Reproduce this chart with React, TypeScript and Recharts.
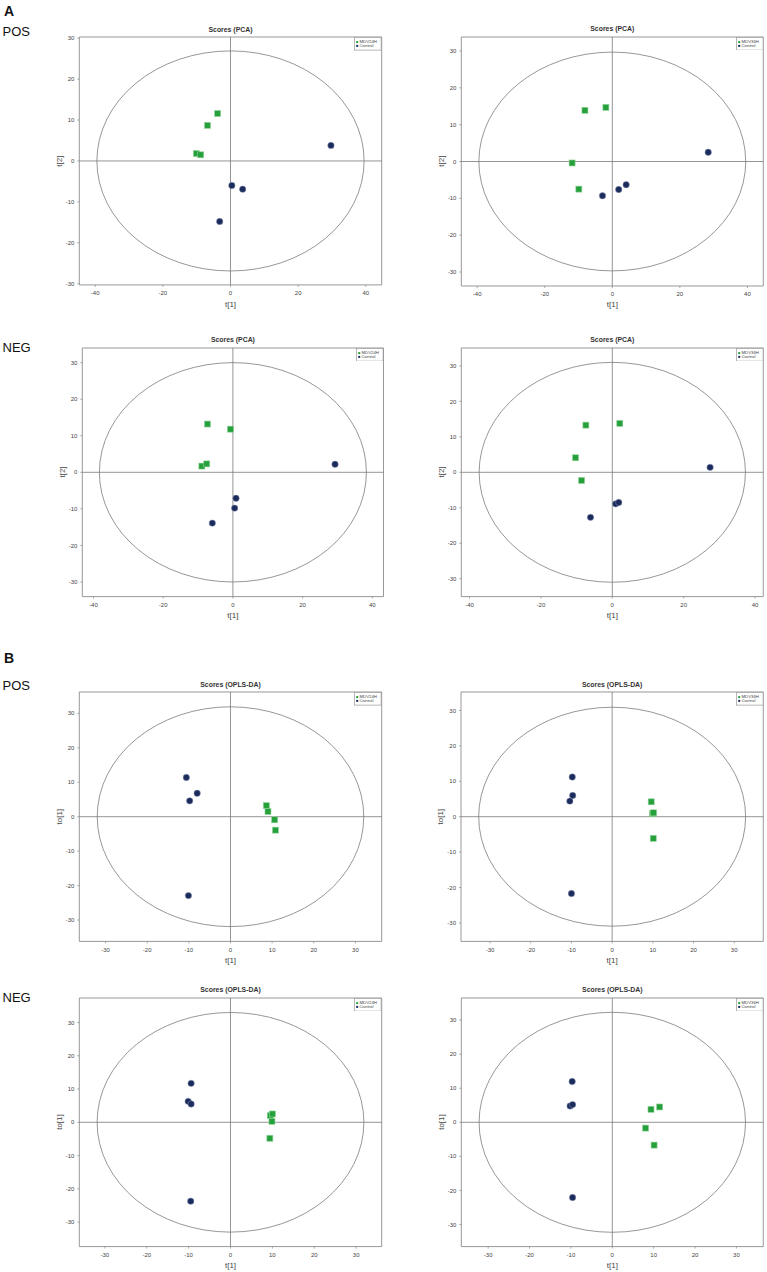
import React from 'react';
import { ScatterChart, Scatter, XAxis, YAxis, ReferenceLine, ReferenceArea, Legend } from 'recharts';

const GREEN = '#25a03b';
const NAVY = '#1b2c5c';
const FONT = "'Liberation Sans', Arial, sans-serif";

// ---------- data ----------
const pcaPos24Mdv = [{ x: -3.8, y: 11.6 }, { x: -6.8, y: 8.7 }, { x: -10.1, y: 1.8 }, { x: -8.8, y: 1.5 }];
const pcaPos24Ctrl = [{ x: 29.7, y: 3.8 }, { x: 0.4, y: -6.0 }, { x: 3.6, y: -6.9 }, { x: -3.2, y: -14.8 }];

const pcaPos36Mdv = [{ x: -8.1, y: 13.9 }, { x: -1.9, y: 14.7 }, { x: -11.9, y: -0.4 }, { x: -9.9, y: -7.5 }];
const pcaPos36Ctrl = [{ x: 28.4, y: 2.5 }, { x: -2.9, y: -9.3 }, { x: 1.9, y: -7.6 }, { x: 4.1, y: -6.3 }];

const pcaNeg24Mdv = [{ x: -7.3, y: 13.2 }, { x: -0.7, y: 11.8 }, { x: -8.9, y: 1.7 }, { x: -7.5, y: 2.3 }];
const pcaNeg24Ctrl = [{ x: 29.3, y: 2.2 }, { x: 0.9, y: -7.1 }, { x: 0.5, y: -9.8 }, { x: -5.9, y: -13.9 }];

const pcaNeg36Mdv = [{ x: -7.4, y: 13.3 }, { x: 2.1, y: 13.8 }, { x: -10.3, y: 4.1 }, { x: -8.6, y: -2.3 }];
const pcaNeg36Ctrl = [{ x: 27.4, y: 1.4 }, { x: 0.95, y: -8.9 }, { x: 1.8, y: -8.5 }, { x: -6.1, y: -12.7 }];

const oplsPos24Mdv = [{ x: 8.6, y: 3.2 }, { x: 9.0, y: 1.5 }, { x: 10.6, y: -0.9 }, { x: 10.8, y: -3.9 }];
const oplsPos24Ctrl = [{ x: -10.6, y: 11.4 }, { x: -8.0, y: 6.8 }, { x: -9.8, y: 4.6 }, { x: -10.1, y: -22.9 }];

const oplsPos36Mdv = [{ x: 9.6, y: 4.2 }, { x: 9.9, y: 0.85 }, { x: 10.2, y: 1.1 }, { x: 10.1, y: -6.1 }];
const oplsPos36Ctrl = [{ x: -9.8, y: 11.2 }, { x: -9.7, y: 6.0 }, { x: -10.4, y: 4.4 }, { x: -10.0, y: -21.7 }];

const oplsNeg24Mdv = [{ x: 9.5, y: 2.0 }, { x: 10.0, y: 2.5 }, { x: 9.9, y: 0.3 }, { x: 9.4, y: -4.8 }];
const oplsNeg24Ctrl = [{ x: -9.4, y: 11.7 }, { x: -10.1, y: 6.3 }, { x: -9.4, y: 5.5 }, { x: -9.5, y: -23.7 }];

const oplsNeg36Mdv = [{ x: 9.35, y: 3.8 }, { x: 11.45, y: 4.5 }, { x: 8.05, y: -1.7 }, { x: 10.1, y: -6.7 }];
const oplsNeg36Ctrl = [{ x: -9.7, y: 12.0 }, { x: -10.2, y: 4.8 }, { x: -9.6, y: 5.2 }, { x: -9.6, y: -22.1 }];

const pcaTicksX = [-40, -20, 0, 20, 40];
const pcaTicksY = [-30, -20, -10, 0, 10, 20, 30];
const oplsTicks = [-30, -20, -10, 0, 10, 20, 30];

// Hotelling T2 ellipse radii [t1, t2]
const ellipsePca = [[39.5, 26.9], [39.5, 29.7], [38.3, 30.0], [37.3, 31.0]];
const ellipseOpls = [[32.0, 31.9], [32.8, 30.9], [31.85, 33.0], [32.2, 32.3]];

const groupNames = ['MDV24H', 'MDV36H'];
const controlName = 'Control';

// ---------- layout ----------
type P = {
  L: number; T: number; R: number; B: number;
  xd: number; yd: number; xt: number[]; yt: number[];
  ell: number[]; title: string; ylab: string; legend: string;
  mdv: { x: number; y: number }[]; ctrl: { x: number; y: number }[];
};

const panels: P[] = [
  { L: 79.3, T: 37.3, R: 381.7, B: 285.2, xd: 44.7, yd: 30.3, xt: pcaTicksX, yt: pcaTicksY, ell: ellipsePca[0], title: 'Scores (PCA)', ylab: 't[2]', legend: groupNames[0], mdv: pcaPos24Mdv, ctrl: pcaPos24Ctrl },
  { L: 461.3, T: 36.7, R: 763.3, B: 285.7, xd: 44.7, yd: 33.8, xt: pcaTicksX, yt: pcaTicksY, ell: ellipsePca[1], title: 'Scores (PCA)', ylab: 't[2]', legend: groupNames[1], mdv: pcaPos36Mdv, ctrl: pcaPos36Ctrl },
  { L: 82.3, T: 347.7, R: 383.5, B: 596.3, xd: 43.2, yd: 34.0, xt: pcaTicksX, yt: pcaTicksY, ell: ellipsePca[2], title: 'Scores (PCA)', ylab: 't[2]', legend: groupNames[0], mdv: pcaNeg24Mdv, ctrl: pcaNeg24Ctrl },
  { L: 461.3, T: 347.7, R: 763.3, B: 596.3, xd: 42.3, yd: 35.05, xt: pcaTicksX, yt: pcaTicksY, ell: ellipsePca[3], title: 'Scores (PCA)', ylab: 't[2]', legend: groupNames[1], mdv: pcaNeg36Mdv, ctrl: pcaNeg36Ctrl },
  { L: 79.3, T: 692, R: 381.7, B: 941.4, xd: 36.3, yd: 36.2, xt: oplsTicks, yt: oplsTicks, ell: ellipseOpls[0], title: 'Scores (OPLS-DA)', ylab: 'to[1]', legend: groupNames[0], mdv: oplsPos24Mdv, ctrl: oplsPos24Ctrl },
  { L: 461, T: 692, R: 763.3, B: 941.4, xd: 37.15, yd: 35.2, xt: oplsTicks, yt: oplsTicks, ell: ellipseOpls[1], title: 'Scores (OPLS-DA)', ylab: 'to[1]', legend: groupNames[1], mdv: oplsPos36Mdv, ctrl: oplsPos36Ctrl },
  { L: 79.3, T: 997.7, R: 381.7, B: 1246.3, xd: 36.1, yd: 37.35, xt: oplsTicks, yt: oplsTicks, ell: ellipseOpls[2], title: 'Scores (OPLS-DA)', ylab: 'to[1]', legend: groupNames[0], mdv: oplsNeg24Mdv, ctrl: oplsNeg24Ctrl },
  { L: 461.3, T: 997.7, R: 763.3, B: 1246.3, xd: 36.5, yd: 36.5, xt: oplsTicks, yt: oplsTicks, ell: ellipseOpls[3], title: 'Scores (OPLS-DA)', ylab: 'to[1]', legend: groupNames[1], mdv: oplsNeg36Mdv, ctrl: oplsNeg36Ctrl },
];

const SquareShape = (props: any) => {
  const { cx, cy } = props;
  if (cx == null || cy == null) return null;
  return <rect x={cx - 3} y={cy - 3} width={6} height={6} fill={GREEN} stroke="#92d29c" strokeWidth={0.6} />;
};

const CircleShape = (props: any) => {
  const { cx, cy } = props;
  if (cx == null || cy == null) return null;
  return <circle cx={cx} cy={cy} r={3.2} fill={NAVY} stroke="#8a96b6" strokeWidth={0.5} />;
};

const EllipseShape = (props: any) => {
  const { x, y, width, height } = props;
  if (x == null) return null;
  return (
    <ellipse cx={x + width / 2} cy={y + height / 2} rx={Math.abs(width) / 2} ry={Math.abs(height) / 2}
      fill="none" stroke="#6a6a6a" strokeWidth={0.7} />
  );
};

const LegendBox = ({ name }: { name: string }) => (
  <svg width={27.5} height={13.5} style={{ display: 'block' }}>
    <rect x={0.4} y={0.4} width={26.7} height={12.7} fill="#fff" stroke="#999" strokeWidth={0.7} />
    <rect x={2.2} y={4.1} width={2} height={2} fill={GREEN} />
    <text x={5.5} y={6.3} fontSize={4.3} fill="#444" fontFamily={FONT}>{name}</text>
    <rect x={2.2} y={7.9} width={2} height={2} fill={NAVY} />
    <text x={5.5} y={10.1} fontSize={4.3} fill="#444" fontFamily={FONT}>{controlName}</text>
  </svg>
);

function Panel({ p }: { p: P }) {
  const colX = p.L < 384 ? 0 : 384;
  const top = p.T - 5;
  const W = p.R - colX + 3;
  const H = p.B - p.T + 5 + 28;
  const tickStyle = { fontSize: 6, fill: '#444', fontFamily: FONT };
  return (
    <div style={{ position: 'absolute', left: colX, top }}>
      <ScatterChart width={W} height={H} margin={{ top: 5, right: 3, bottom: 0, left: 0 }}>
        <XAxis type="number" dataKey="x" domain={[-p.xd, p.xd]} ticks={p.xt} allowDataOverflow
          height={28} tickSize={2} tickMargin={4} axisLine={false} tickLine={{ stroke: '#888', strokeWidth: 0.7 }}
          tick={tickStyle} interval={0} />
        <YAxis type="number" dataKey="y" domain={[-p.yd, p.yd]} ticks={p.yt} allowDataOverflow
          width={p.L - colX} tickSize={2} tickMargin={3} axisLine={false} tickLine={{ stroke: '#888', strokeWidth: 0.7 }}
          tick={tickStyle} interval={0} />
        <ReferenceArea x1={-p.xd} x2={p.xd} y1={-p.yd} y2={p.yd} fill="none" stroke="#8c8c8c" strokeWidth={0.9} fillOpacity={0} />
        <ReferenceArea x1={-p.ell[0]} x2={p.ell[0]} y1={-p.ell[1]} y2={p.ell[1]} shape={EllipseShape} />
        <ReferenceLine x={0} stroke="#7a7a7a" strokeWidth={0.8} />
        <ReferenceLine y={0} stroke="#7a7a7a" strokeWidth={0.8} />
        <Legend layout="vertical" align="center" verticalAlign="middle"
          wrapperStyle={{ left: p.R - colX - 27.6, top: 5, width: 27.5, height: 13.5 }}
          content={() => <LegendBox name={p.legend} />} />
        <Scatter name={p.legend} data={p.mdv} shape={SquareShape} isAnimationActive={false} />
        <Scatter name={controlName} data={p.ctrl} shape={CircleShape} isAnimationActive={false} />
      </ScatterChart>
    </div>
  );
}

export default function App() {
  return (
    <div style={{ position: 'absolute', left: 0, top: 0, width: 767, height: 1272, background: '#fff', overflow: 'hidden', fontFamily: FONT }}>
      {panels.map((p, i) => <Panel key={i} p={p} />)}
      <svg width={767} height={1272} style={{ position: 'absolute', left: 0, top: 0, pointerEvents: 'none' }}>
        <g fontFamily={FONT}>
          <text x={4} y={16} fontSize={14} fontWeight="bold" fill="#111">A</text>
          <text x={2.5} y={36} fontSize={13} fill="#111">POS</text>
          <text x={2.5} y={351.7} fontSize={13} fill="#111">NEG</text>
          <text x={4} y={663} fontSize={14} fontWeight="bold" fill="#111">B</text>
          <text x={2.5} y={690} fontSize={13} fill="#111">POS</text>
          <text x={2.5} y={1001.7} fontSize={13} fill="#111">NEG</text>
          {panels.map((p, i) => {
            const cx = (p.L + p.R) / 2;
            const cy = (p.T + p.B) / 2;
            return (
              <g key={i}>
                <text x={cx} y={p.T - 8} fontSize={6.9} fontWeight="bold" fill="#333" textAnchor="middle" dominantBaseline="central">{p.title}</text>
                <text x={cx} y={p.B + 19} fontSize={8} fill="#444" textAnchor="middle" dominantBaseline="central">t[1]</text>
                <text x={p.L - 20} y={cy} fontSize={8} fill="#444" textAnchor="middle" dominantBaseline="central" transform={`rotate(-90 ${p.L - 20} ${cy})`}>{p.ylab}</text>
              </g>
            );
          })}
        </g>
      </svg>
    </div>
  );
}
